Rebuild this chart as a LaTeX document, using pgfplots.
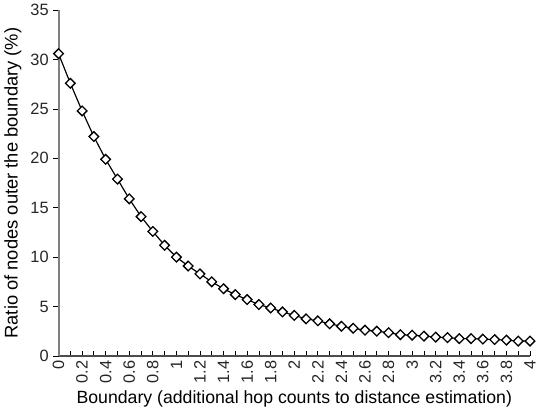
\documentclass[border=0pt]{standalone}
\usepackage{fontspec}
\setmainfont{Liberation Sans}
\usepackage{pgfplots}
\pgfplotsset{compat=1.18}
\begin{document}
\begin{tikzpicture}
\begin{axis}[
  scale only axis,
  width=360pt, height=264pt,
  xmin=0, xmax=4, ymin=0, ymax=35,
  axis x line*=bottom, axis y line*=left,
  x axis line style={draw=gray!60!black, line width=1pt},
  y axis line style={draw=gray, line width=1.5pt},
  xtick={0,0.2,...,4.01}, minor x tick num=1,
  ytick={0,5,...,35},
  xtick align=inside, ytick align=outside,
  tick style={black, line width=0.6pt},
  major tick length=4pt, minor tick length=4pt,
  x tick label style={rotate=90, anchor=east, font=\fontsize{12.5}{14}\selectfont, color=black!85},
  y tick label style={font=\fontsize{12.5}{14}\selectfont, color=black!85},
  /pgf/number format/assume math mode=true,
  /pgf/number format/fixed, /pgf/number format/precision=1,
  xlabel={Boundary (additional hop counts to distance estimation)},
  ylabel={Ratio of nodes outer the boundary (\%)},
  xlabel style={font=\fontsize{13.5}{15}\selectfont, yshift=1pt},
  ylabel style={font=\fontsize{14}{16}\selectfont, yshift=0pt},
  clip=false,
]
\addplot[black, line width=0.9pt, mark=square*, mark size=2.6pt,
  mark options={fill=white, line width=1pt, rotate=45}] coordinates {
(0,30.6) (0.1,27.6) (0.2,24.8) (0.3,22.2) (0.4,19.9) (0.5,17.9) (0.6,15.9)
(0.7,14.1) (0.8,12.6) (0.9,11.2) (1.0,10.0) (1.1,9.1) (1.2,8.3) (1.3,7.5)
(1.4,6.8) (1.5,6.2) (1.6,5.7) (1.7,5.2) (1.8,4.85) (1.9,4.45) (2.0,4.1)
(2.1,3.75) (2.2,3.55) (2.3,3.25) (2.4,3.0) (2.5,2.8) (2.6,2.6) (2.7,2.5)
(2.8,2.35) (2.9,2.15) (3.0,2.1) (3.1,2.0) (3.2,1.9) (3.3,1.85) (3.4,1.75)
(3.5,1.75) (3.6,1.7) (3.7,1.65) (3.8,1.6) (3.9,1.5) (4.0,1.5)
};
\end{axis}
\end{tikzpicture}
\end{document}
